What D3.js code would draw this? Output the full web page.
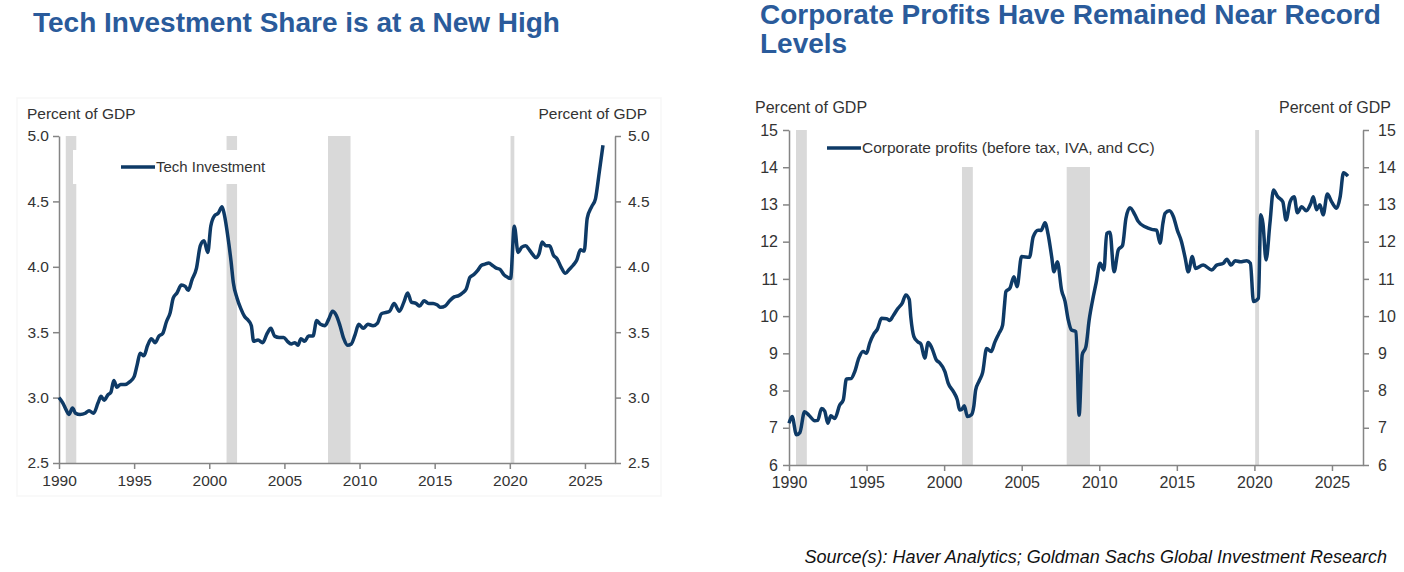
<!DOCTYPE html>
<html>
<head>
<meta charset="utf-8">
<script src="https://cdn.jsdelivr.net/npm/d3@7"></script>
<style>
  body { margin: 0; background: #fff; }
  svg { display: block; font-family: "Liberation Sans", Arial, sans-serif; }
</style>
</head>
<body>
<svg id="chart" width="1404" height="572"></svg>
<script>
// values (decimal years)
var techYears = [1990.0, 1990.25, 1990.5, 1990.65, 1990.9, 1991.1, 1991.4, 1991.75, 1992.0, 1992.3, 1992.6, 1992.8,
  1993.0, 1993.25, 1993.45, 1993.65, 1993.85, 1994.1, 1994.4, 1994.7, 1995.0, 1995.2, 1995.4, 1995.65, 1995.9,
  1996.15, 1996.4, 1996.65, 1996.9, 1997.15, 1997.4, 1997.6, 1997.85, 1998.15, 1998.4, 1998.6, 1998.85, 1999.15,
  1999.4, 1999.65, 1999.9, 2000.1, 2000.35, 2000.6, 2000.85, 2001.0, 2001.25, 2001.45, 2001.6, 2001.85, 2002.1,
  2002.35, 2002.6, 2002.8, 2002.95, 2003.25, 2003.55, 2003.85, 2004.1, 2004.35, 2004.65, 2004.95, 2005.2, 2005.45,
  2005.7, 2005.9, 2006.1, 2006.35, 2006.6, 2006.9, 2007.15, 2007.4, 2007.7, 2007.95, 2008.2, 2008.45, 2008.7,
  2008.95, 2009.2, 2009.45, 2009.7, 2009.95, 2010.25, 2010.55, 2010.9, 2011.2, 2011.45, 2011.7, 2012.0, 2012.3,
  2012.65, 2012.95, 2013.2, 2013.45, 2013.75, 2014.0, 2014.3, 2014.6, 2014.9, 2015.15, 2015.4, 2015.7, 2016.0,
  2016.3, 2016.6, 2016.85, 2017.1, 2017.35, 2017.6, 2017.85, 2018.1, 2018.35, 2018.6, 2018.85, 2019.1, 2019.35,
  2019.6, 2019.85, 2020.05, 2020.3, 2020.55, 2020.8, 2021.05, 2021.3, 2021.55, 2021.75, 2021.95, 2022.15, 2022.4,
  2022.65, 2022.9, 2023.15, 2023.4, 2023.7, 2023.95, 2024.2, 2024.45, 2024.7, 2024.95, 2025.15, 2025.45, 2025.7,
  2025.95, 2026.2];
var techValues = [3.00, 2.96, 2.90, 2.87, 2.92, 2.88, 2.87, 2.88, 2.90, 2.88, 2.96, 3.01,
  2.98, 3.02, 3.04, 3.13, 3.08, 3.10, 3.10, 3.12, 3.16, 3.25, 3.34, 3.32, 3.40,
  3.45, 3.42, 3.47, 3.49, 3.58, 3.65, 3.76, 3.80, 3.86, 3.85, 3.82, 3.90, 3.99,
  4.16, 4.20, 4.11, 4.31, 4.39, 4.41, 4.46, 4.40, 4.22, 4.04, 3.88, 3.76, 3.68,
  3.62, 3.59, 3.55, 3.43, 3.44, 3.42, 3.49, 3.53, 3.47, 3.46, 3.46, 3.43, 3.41,
  3.42, 3.40, 3.45, 3.43, 3.47, 3.47, 3.59, 3.56, 3.55, 3.60, 3.66, 3.63, 3.55,
  3.45, 3.40, 3.41, 3.48, 3.56, 3.53, 3.56, 3.55, 3.57, 3.64, 3.65, 3.66, 3.72,
  3.66, 3.73, 3.80, 3.73, 3.72, 3.70, 3.74, 3.72, 3.72, 3.71, 3.69, 3.70, 3.74,
  3.77, 3.78, 3.80, 3.83, 3.92, 3.94, 3.97, 4.01, 4.02, 4.03, 4.01, 3.99, 3.98,
  3.94, 3.92, 3.91, 4.31, 4.11, 4.15, 4.16, 4.13, 4.09, 4.07, 4.10, 4.19, 4.16,
  4.16, 4.09, 4.06, 4.00, 3.95, 3.98, 4.01, 4.05, 4.13, 4.12, 4.37, 4.46, 4.52,
  4.72, 4.93];

var profitYears = [1990.0, 1990.2, 1990.48, 1990.7, 1991.0, 1991.3, 1991.66, 1991.85, 1992.1, 1992.3, 1992.5, 1992.7,
  1992.95, 1993.27, 1993.5, 1993.7, 1994.0, 1994.24, 1994.5, 1994.77, 1995.0, 1995.2, 1995.47, 1995.7, 1995.96,
  1996.3, 1996.5, 1996.7, 1997.03, 1997.3, 1997.53, 1997.75, 1997.85, 1998.05, 1998.3, 1998.5, 1998.75, 1998.97,
  1999.2, 1999.5, 1999.7, 2000.05, 2000.26, 2000.6, 2000.85, 2001.0, 2001.15, 2001.3, 2001.5, 2001.76, 2001.92,
  2002.03, 2002.25, 2002.48, 2002.74, 2003.03, 2003.27, 2003.55, 2003.77, 2003.9, 2003.98, 2004.24, 2004.5,
  2004.7, 2004.99, 2005.5, 2005.74, 2006.06, 2006.25, 2006.5, 2006.7, 2006.93, 2007.08, 2007.3, 2007.57,
  2007.79, 2008.0, 2008.2, 2008.5, 2008.7, 2008.9, 2009.14, 2009.35, 2009.57, 2009.8, 2010.05, 2010.3, 2010.48,
  2010.69, 2010.95, 2011.23, 2011.5, 2011.72, 2011.98, 2012.3, 2012.5, 2012.95, 2013.38, 2013.7, 2013.92, 2014.1,
  2014.24, 2014.52, 2014.78, 2015.03, 2015.3, 2015.52, 2015.74, 2016.0, 2016.2, 2016.7, 2017.25, 2017.57, 2018.0,
  2018.22, 2018.5, 2018.76, 2019.1, 2019.5, 2019.74, 2019.94, 2020.26, 2020.41, 2020.55, 2020.75, 2021.0,
  2021.23, 2021.5, 2021.83, 2022.04, 2022.3, 2022.56, 2022.77, 2023.05, 2023.34, 2023.64, 2023.8, 2024.0,
  2024.22, 2024.43, 2024.7, 2024.98, 2025.3, 2025.53, 2025.74, 2026.03];
var profitValues = [7.12, 7.30, 6.81, 6.87, 7.43, 7.33, 7.19, 7.20, 7.52, 7.45, 7.12, 7.32,
  7.25, 7.61, 7.75, 8.31, 8.32, 8.51, 8.87, 9.05, 9.00, 9.27, 9.52, 9.65, 9.94,
  9.93, 9.88, 10.00, 10.21, 10.35, 10.57, 10.45, 9.98, 9.45, 9.31, 9.25, 8.87, 9.29,
  9.15, 8.82, 8.75, 8.51, 8.20, 7.97, 7.75, 7.48, 7.50, 7.59, 7.30, 7.35, 7.60,
  8.01, 8.25, 8.48, 9.13, 9.05, 9.30, 9.55, 9.76, 10.34, 10.66, 10.75, 11.06,
  10.79, 11.60, 11.58, 12.13, 12.31, 12.30, 12.51, 12.20, 11.60, 11.19, 11.46, 10.70,
  10.40, 9.90, 9.63, 9.58, 7.34, 8.96, 9.18, 9.90, 10.43, 10.90, 11.42, 11.24, 12.22,
  12.25, 11.19, 11.78, 11.90, 12.63, 12.91, 12.72, 12.55, 12.40, 12.33, 12.31, 11.96, 12.49,
  12.76, 12.83, 12.67, 12.31, 12.00, 11.60, 11.19, 11.60, 11.28, 11.37, 11.24, 11.37, 11.42,
  11.53, 11.37, 11.49, 11.46, 11.49, 11.42, 10.39, 10.48, 12.72, 12.49, 11.51, 12.49,
  13.39, 13.21, 13.07, 12.58, 13.07, 13.21, 12.78, 12.94, 12.83, 13.03, 13.21, 12.86,
  12.99, 12.72, 13.28, 13.07, 12.90, 13.21, 13.85, 13.76];

var recessionStarts = [1990.45, 2001.15, 2007.9, 2020.05];
var recessionEnds = [1991.15, 2001.85, 2009.4, 2020.3];

var yearTicks = [1990, 1995, 2000, 2005, 2010, 2015, 2020, 2025];
var techTicks = [2.5, 3.0, 3.5, 4.0, 4.5, 5.0];
var profitTicks = [6, 7, 8, 9, 10, 11, 12, 13, 14, 15];

var svg = d3.select('#chart');
var titleColor = '#2a5b9b';
var lineColor = '#0e3a66';
var axisColor = '#858585';
var textColor = '#333';

function styleAxis(g, fontSize) {
    g.attr('font-family', null).attr('font-size', null);
    g.select('.domain').attr('stroke', axisColor).attr('stroke-width', 1.5);
    g.selectAll('.tick line').attr('stroke', axisColor).attr('stroke-width', 1.5);
    g.selectAll('.tick text').attr('fill', textColor).style('font-size', fontSize + 'px');
}

function drawPanel(o) {
    var x = d3.scaleLinear().domain([1990, 2027]).range([o.left, o.right]);
    var y = d3.scaleLinear().domain([o.ticks[0], o.ticks[o.ticks.length - 1]]).range([o.bottom, o.top]);
    var g = svg.append('g');

    // recession shading
    g.selectAll('rect.rec')
        .data(recessionStarts)
        .enter().append('rect')
        .attr('class', 'rec')
        .attr('x', function(d) { return x(d); })
        .attr('width', function(d, i) { return Math.max(3, x(recessionEnds[i]) - x(d)); })
        .attr('y', o.top)
        .attr('height', o.bottom - o.top)
        .attr('fill', '#d9d9d9');

    // legend sits on a white box that hides the bars behind it
    g.append('rect')
        .attr('x', o.legend.x0).attr('y', o.legend.y0)
        .attr('width', o.legend.x1 - o.legend.x0).attr('height', o.legend.y1 - o.legend.y0)
        .attr('fill', '#fff');
    g.append('line')
        .attr('x1', o.legend.lx).attr('x2', o.legend.lx + 34)
        .attr('y1', o.legend.ly).attr('y2', o.legend.ly)
        .attr('stroke', lineColor).attr('stroke-width', 3.5);
    g.append('text')
        .attr('x', o.legend.lx + 35).attr('y', o.legend.ly + 5)
        .attr('fill', textColor).style('font-size', o.legend.size + 'px')
        .text(o.legend.label);

    var fmt = o.decimals ? d3.format('.1f') : d3.format('d');
    g.append('g')
        .attr('transform', 'translate(' + o.left + ',0)')
        .call(d3.axisLeft(y).tickValues(o.ticks).tickFormat(fmt).tickSize(6).tickSizeOuter(0).tickPadding(o.padL))
        .call(styleAxis, o.fontSize);
    g.append('g')
        .attr('transform', 'translate(' + o.right + ',0)')
        .call(d3.axisRight(y).tickValues(o.ticks).tickFormat(fmt).tickSize(6).tickSizeOuter(0).tickPadding(o.padR))
        .call(styleAxis, o.fontSize);
    g.append('g')
        .attr('transform', 'translate(0,' + o.bottom + ')')
        .call(d3.axisBottom(x).tickValues(yearTicks).tickFormat(d3.format('d')).tickSize(6).tickSizeOuter(0).tickPadding(6))
        .call(styleAxis, o.fontSize);

    g.append('text').attr('x', o.unitLeftX).attr('y', o.unitY)
        .attr('fill', textColor).style('font-size', o.fontSize + 'px').text('Percent of GDP');
    g.append('text').attr('x', o.unitRightX).attr('y', o.unitY).attr('text-anchor', 'end')
        .attr('fill', textColor).style('font-size', o.fontSize + 'px').text('Percent of GDP');

    var line = d3.line()
        .x(function(d, i) { return x(o.years[i]); })
        .y(function(d) { return y(d); })
        .curve(d3.curveMonotoneX);
    g.append('path')
        .datum(o.values)
        .attr('d', line)
        .attr('fill', 'none')
        .attr('stroke', lineColor)
        .attr('stroke-width', 3.5)
        .attr('stroke-linejoin', 'round');
}

// very faint panel frame behind the left chart
svg.append('rect').attr('x', 17).attr('y', 98).attr('width', 644).attr('height', 398)
    .attr('fill', 'none').attr('stroke', '#f7f7f7').attr('stroke-width', 1.5);

drawPanel({
    left: 59, right: 615, top: 136, bottom: 463,
    ticks: techTicks, decimals: true, fontSize: 15.5, padL: 4, padR: 7,
    years: techYears, values: techValues,
    unitLeftX: 27, unitRightX: 647, unitY: 119,
    legend: { x0: 73, x1: 300, y0: 150, y1: 184, lx: 121, ly: 167, size: 15, label: 'Tech Investment' }
});

drawPanel({
    left: 789, right: 1363, top: 130, bottom: 465,
    ticks: profitTicks, decimals: false, fontSize: 16, padL: 5, padR: 9,
    years: profitYears, values: profitValues,
    unitLeftX: 755, unitRightX: 1391, unitY: 113,
    legend: { x0: 808, x1: 1240, y0: 128, y1: 167, lx: 827, ly: 148, size: 15.5, label: 'Corporate profits (before tax, IVA, and CC)' }
});

// titles
svg.append('text').attr('x', 33).attr('y', 32)
    .attr('fill', titleColor).style('font-size', '28px').style('font-weight', 'bold')
    .text('Tech Investment Share is at a New High');
svg.append('text').attr('x', 760).attr('y', 24)
    .attr('fill', titleColor).style('font-size', '28px').style('font-weight', 'bold')
    .text('Corporate Profits Have Remained Near Record');
svg.append('text').attr('x', 760).attr('y', 53)
    .attr('fill', titleColor).style('font-size', '28px').style('font-weight', 'bold')
    .text('Levels');

svg.append('text').attr('x', 1387).attr('y', 563).attr('text-anchor', 'end')
    .attr('fill', '#111').style('font-size', '18px').style('font-style', 'italic')
    .text('Source(s): Haver Analytics; Goldman Sachs Global Investment Research');
</script>
</body>
</html>
